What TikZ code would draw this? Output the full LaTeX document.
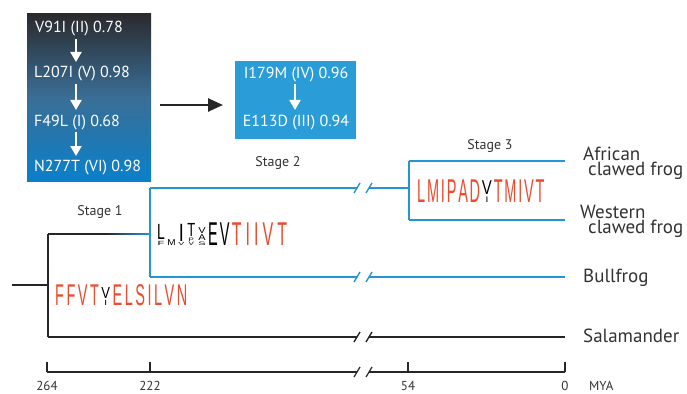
\documentclass[tikz,border=0pt]{standalone}
\usepackage{fontspec}
\setmainfont{PT Sans}
\newfontfamily\logofont{Liberation Sans}
\usetikzlibrary{arrows.meta}
\definecolor{boxtop}{HTML}{2A2A2D}
\definecolor{boxmid}{HTML}{3A6E96}
\definecolor{boxbot}{HTML}{0A80CA}
\definecolor{boxtwo}{HTML}{2A9DD8}
\definecolor{lblue}{HTML}{2496D6}
\definecolor{lred}{HTML}{EE4A2E}
\definecolor{tgray}{HTML}{333333}
\newcommand\LG[4]{\textcolor{#1}{\scalebox{#2}[#3]{#4}}}
\newcommand\RL[1]{\LG{lred}{1.45}{3.0}{#1}\kern2.5pt}
\newcommand\RM[1]{\LG{lred}{1.6}{3.3}{#1}\kern4pt}
\newcommand\RN[1]{\LG{lred}{1.45}{3.3}{#1}\kern1.8pt}
\newcommand\stk[1]{\vbox{\offinterlineskip\halign{\hfil##\hfil\cr#1\crcr}}}
\begin{document}
\begin{tikzpicture}[x=1pt,y=-1pt,
  boxtext/.style={text=white,font=\fontsize{16}{18}\selectfont,inner sep=0pt},
  whitearrow/.style={white,line width=2pt,-{Triangle[length=10pt,width=11pt]}},
  bigarrow/.style={black!85,line width=2.5pt,-{Triangle[length=15pt,width=13pt]}},
  bline/.style={lblue,line width=1.8pt},
  kline/.style={black!85,line width=1.8pt},
  brk/.style={line width=1.4pt},
  taxon/.style={text=tgray,font=\fontsize{19}{20}\selectfont,inner sep=0pt,anchor=west},
  stagelab/.style={text=tgray,font=\fontsize{14}{16}\selectfont,inner sep=0pt},
  axlab/.style={text=tgray,font=\fontsize{13}{15}\selectfont,inner sep=0pt},
  logo/.style={font=\fontsize{10}{10}\selectfont\logofont,inner sep=0pt,anchor=base west}]
\useasboundingbox[fill=white] (0,0) rectangle (687,393);

% ---------- boxes ----------
\node (box1) [anchor=north west,minimum width=124pt,minimum height=168pt,inner sep=0pt,
  top color=boxtop,bottom color=boxbot,middle color=boxmid] at (27,13) {};
\node (box2) [anchor=north west,minimum width=121pt,minimum height=78pt,inner sep=0pt,
  fill=boxtwo] at (235,61) {};

\node (m1) [boxtext,anchor=west] at (35,29) {V91I (II) 0.78};
\node (m2) [boxtext,anchor=west] at (34,74) {L207I (V) 0.98};
\node (m3) [boxtext,anchor=west] at (34,123) {F49L (I) 0.68};
\node (m4) [boxtext,anchor=west] at (34,168) {N277T (VI) 0.98};
\node (m5) [boxtext] at (296,75) {I179M (IV) 0.96};
\node (m6) [boxtext] at (296,123) {E113D (III) 0.94};

\coordinate (ax) at (76,0);
\coordinate (bx) at (295,0);
\coordinate (ay) at (0,105);
\draw[whitearrow,shorten <=10pt,shorten >=12pt] (m1.center -| ax) -- (m2.center -| ax);
\draw[whitearrow,shorten <=10pt,shorten >=13pt] (m2.center -| ax) -- (m3.center -| ax);
\draw[whitearrow,shorten <=9pt,shorten >=12pt] (m3.center -| ax) -- (m4.center -| ax);
\draw[whitearrow,shorten <=9pt,shorten >=13pt] (m5.center -| bx) -- (m6.center -| bx);
\draw[bigarrow,shorten <=9pt,shorten >=12pt] (box1.east |- ay) -- (box2.west |- ay);

% ---------- tree ----------
\coordinate (r0) at (12,285);
\coordinate (r) at (48,285);
\coordinate (rt) at (48,234);
\coordinate (rb) at (48,337);
\coordinate (g) at (105,234);
\coordinate (n2) at (150,234);
\coordinate (n2t) at (150,188);
\coordinate (n2b) at (150,277);
\coordinate (n3) at (409,188);
\coordinate (n3t) at (409,161);
\coordinate (n3b) at (409,220);
\coordinate (tA) at (565,161);
\coordinate (tW) at (565,220);
\coordinate (tB) at (565,277);
\coordinate (tS) at (565,337);
\coordinate (k1) at (357,0);
\coordinate (k2) at (369,0);

\draw[kline] (r0) -- (r);
\draw[kline] (rt) -- (rb);
\draw[kline] (rt) -- (g);
\shade[left color=black!85,right color=lblue] (105,233.1) rectangle (150,234.9);
\draw[bline] (n2t) -- (n2b);
\draw[bline] (n2t) -- (n2t -| k1);
\draw[bline] (n2t -| k2) -- (n3);
\draw[bline] (n3t) -- (n3b);
\draw[bline] (n3t) -- (tA);
\draw[bline] (n3b) -- (tW);
\draw[bline] (n2b) -- (n2b -| k1);
\draw[bline] (n2b -| k2) -- (tB);
\draw[kline] (rb) -- (rb -| k1);
\draw[kline] (rb -| k2) -- (tS);
\foreach \yy/\cc in {188/lblue,277/lblue,337/black!85}{
  \draw[brk,\cc] (354,\yy+5) -- (360,\yy-5);
  \draw[brk,\cc] (366,\yy+5) -- (372,\yy-5);
}

% ---------- taxa ----------
\node (lA1) [taxon] at (583,154) {African};
\node (lA2) [taxon] at (588,171) {clawed frog};
\node (lW1) [taxon] at (580,212) {Western};
\node (lW2) [taxon] at (588,229) {clawed frog};
\node (lB) [taxon] at (583,278) {Bullfrog};
\node (lS) [taxon] at (583,336) {Salamander};

% ---------- stage labels ----------
\node (s1) [stagelab] at (100,212) {Stage 1};
\node (s2) [stagelab] at (278,163) {Stage 2};
\node (s3) [stagelab] at (490,146) {Stage 3};

% ---------- logos ----------
\node (lg1) [logo] at (55,305) {\RL{F}\RL{F}\RL{V}\RL{T}%
  \stk{\LG{black}{1.3}{1.6}{V}\cr\noalign{\kern1.5pt}\LG{black}{1.0}{0.75}{I}}\kern2.5pt%
  \RL{E}\RL{L}\RL{S}\RL{I}\RL{L}\RL{V}\RL{N}};

\node (lg2) [logo] at (157,245) {%
  \stk{\LG{black}{1.4}{2.2}{L}\cr\noalign{\kern1pt}\LG{black}{1.1}{0.6}{F}}\kern2.5pt%
  \LG{black}{1.0}{0.85}{M}\kern2.5pt%
  \stk{\LG{black}{1.8}{2.5}{I}\cr\noalign{\kern0.8pt}\LG{black}{0.9}{0.45}{V}}\kern3pt%
  \stk{\LG{black}{1.3}{1.9}{T}\cr\noalign{\kern0.8pt}\LG{black}{0.8}{0.5}{P}\cr\noalign{\kern0.5pt}\LG{black}{0.8}{0.5}{V}}\kern3pt%
  \stk{\LG{black}{1.1}{0.85}{V}\cr\noalign{\kern1pt}\LG{black}{1.1}{0.85}{A}\cr\noalign{\kern1pt}\LG{black}{1.1}{0.5}{S}}\kern2.5pt%
  \LG{black}{1.45}{3.3}{E}\kern2pt\LG{black}{1.45}{3.3}{V}\kern2.5pt%
  \RM{T}\RM{I}\RM{I}\RM{V}\RM{T}};

\node (lg3) [logo] at (417,202) {\RN{L}\RN{M}\RN{I}\RN{P}\RN{A}\RN{D}%
  \stk{\LG{black}{1.5}{2.0}{V}\cr\noalign{\kern1.5pt}\LG{black}{1.0}{0.8}{I}}\kern1.8pt%
  \RN{T}\RN{M}\RN{I}\RN{V}\RN{T}};

% ---------- axis ----------
\coordinate (a0) at (47,372);
\coordinate (a1) at (150,372);
\coordinate (a2) at (408,372);
\coordinate (a3) at (565,372);
\draw[kline,line width=1.2pt] (a0) -- (a0 -| k1);
\draw[kline,line width=1.2pt] (a0 -| k2) -- (a3);
\foreach \c in {a0,a1,a2,a3}{\draw[kline,line width=1.2pt] (\c) -- ++(0,-10);}
\draw[brk,black!85,line width=1.2pt] (354,377) -- (360,367);
\draw[brk,black!85,line width=1.2pt] (366,377) -- (372,367);
\node (x0) [axlab] at (47,386) {264};
\node (x1) [axlab] at (150,386) {222};
\node (x2) [axlab] at (408,386) {54};
\node (x3) [axlab] at (565,386) {0};
\node (xu) [axlab,anchor=west] at (589,386) {MYA};
\end{tikzpicture}
\end{document}
